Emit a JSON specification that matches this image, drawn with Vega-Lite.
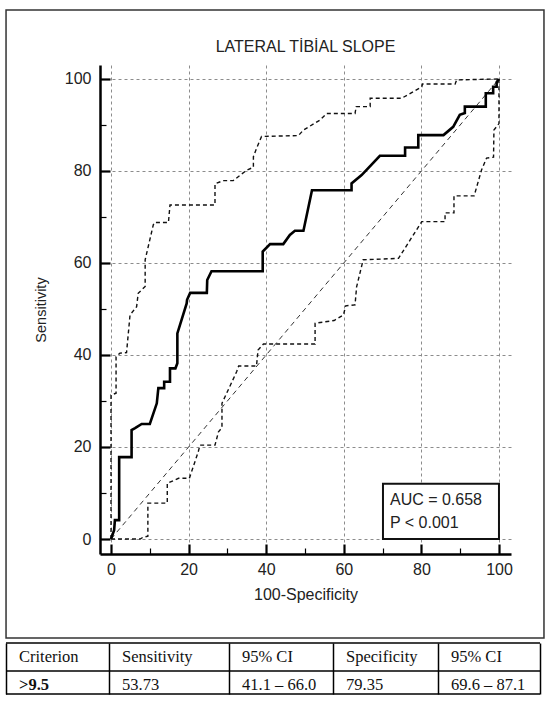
{
  "$schema": "https://vega.github.io/schema/vega-lite/v6.json",
  "background": "white",
  "padding": {"left": 5, "top": 9, "right": 0, "bottom": 0},
  "autosize": {"type": "pad"},
  "spacing": 3,
  "config": {"view": {"stroke": null}},
  "datasets": {
    "curves": [
      {"s": "roc", "x": 0, "y": 0}, {"s": "roc", "x": 0.8, "y": 1.9}, {"s": "roc", "x": 1.0, "y": 4.1},
      {"s": "roc", "x": 2.1, "y": 4.1}, {"s": "roc", "x": 2.1, "y": 17.8}, {"s": "roc", "x": 5.3, "y": 17.8},
      {"s": "roc", "x": 5.3, "y": 23.7}, {"s": "roc", "x": 6.2, "y": 24.1}, {"s": "roc", "x": 7.9, "y": 25.0},
      {"s": "roc", "x": 10.0, "y": 25.0}, {"s": "roc", "x": 11.8, "y": 29.5}, {"s": "roc", "x": 12.2, "y": 32.8},
      {"s": "roc", "x": 13.7, "y": 32.8}, {"s": "roc", "x": 13.7, "y": 34.2}, {"s": "roc", "x": 15.2, "y": 34.2},
      {"s": "roc", "x": 15.2, "y": 37.1}, {"s": "roc", "x": 16.6, "y": 37.1}, {"s": "roc", "x": 17.1, "y": 38.2},
      {"s": "roc", "x": 17.1, "y": 44.7}, {"s": "roc", "x": 19.5, "y": 51.2}, {"s": "roc", "x": 19.6, "y": 52.0},
      {"s": "roc", "x": 20.4, "y": 53.5}, {"s": "roc", "x": 24.7, "y": 53.5}, {"s": "roc", "x": 24.8, "y": 56.3},
      {"s": "roc", "x": 25.9, "y": 58.2}, {"s": "roc", "x": 39.1, "y": 58.2}, {"s": "roc", "x": 39.1, "y": 62.5},
      {"s": "roc", "x": 41.0, "y": 64.1}, {"s": "roc", "x": 44.4, "y": 64.1}, {"s": "roc", "x": 46.1, "y": 66.1},
      {"s": "roc", "x": 47.4, "y": 67.0}, {"s": "roc", "x": 49.6, "y": 67.0}, {"s": "roc", "x": 51.8, "y": 75.8},
      {"s": "roc", "x": 62.0, "y": 75.8}, {"s": "roc", "x": 62.0, "y": 77.3}, {"s": "roc", "x": 64.6, "y": 79.1},
      {"s": "roc", "x": 69.3, "y": 83.3}, {"s": "roc", "x": 75.8, "y": 83.3}, {"s": "roc", "x": 75.8, "y": 85.1},
      {"s": "roc", "x": 79.2, "y": 85.1}, {"s": "roc", "x": 79.2, "y": 87.8}, {"s": "roc", "x": 85.7, "y": 87.8},
      {"s": "roc", "x": 88.2, "y": 89.6}, {"s": "roc", "x": 89.9, "y": 92.2}, {"s": "roc", "x": 91.2, "y": 92.6},
      {"s": "roc", "x": 91.2, "y": 94.0}, {"s": "roc", "x": 96.6, "y": 94.0}, {"s": "roc", "x": 96.6, "y": 96.9},
      {"s": "roc", "x": 98.5, "y": 96.9}, {"s": "roc", "x": 98.5, "y": 98.3}, {"s": "roc", "x": 99.4, "y": 98.3},
      {"s": "roc", "x": 99.4, "y": 99.3}, {"s": "roc", "x": 100, "y": 100},

      {"s": "upper", "x": 0, "y": 0}, {"s": "upper", "x": 0, "y": 31.3}, {"s": "upper", "x": 1.3, "y": 31.7},
      {"s": "upper", "x": 1.3, "y": 39.6}, {"s": "upper", "x": 2.3, "y": 40.4}, {"s": "upper", "x": 4.0, "y": 40.5},
      {"s": "upper", "x": 4.9, "y": 48.7}, {"s": "upper", "x": 6.6, "y": 50.5}, {"s": "upper", "x": 7.0, "y": 53.4},
      {"s": "upper", "x": 8.8, "y": 54.9}, {"s": "upper", "x": 8.8, "y": 60.7}, {"s": "upper", "x": 10.9, "y": 68.3},
      {"s": "upper", "x": 11.2, "y": 68.8}, {"s": "upper", "x": 14.8, "y": 68.8}, {"s": "upper", "x": 15.2, "y": 72.6},
      {"s": "upper", "x": 26.8, "y": 72.6}, {"s": "upper", "x": 26.8, "y": 77.2}, {"s": "upper", "x": 28.9, "y": 77.9},
      {"s": "upper", "x": 31.5, "y": 77.9}, {"s": "upper", "x": 35.0, "y": 80.2}, {"s": "upper", "x": 36.7, "y": 80.8},
      {"s": "upper", "x": 36.7, "y": 83.1}, {"s": "upper", "x": 37.5, "y": 84.9}, {"s": "upper", "x": 38.8, "y": 87.5},
      {"s": "upper", "x": 48.3, "y": 87.7}, {"s": "upper", "x": 49.6, "y": 88.9}, {"s": "upper", "x": 53.9, "y": 91.1},
      {"s": "upper", "x": 55.6, "y": 92.5}, {"s": "upper", "x": 62.9, "y": 92.5}, {"s": "upper", "x": 63.2, "y": 94.0},
      {"s": "upper", "x": 66.8, "y": 94.0}, {"s": "upper", "x": 66.8, "y": 95.8}, {"s": "upper", "x": 74.9, "y": 95.8},
      {"s": "upper", "x": 80.1, "y": 98.3}, {"s": "upper", "x": 80.3, "y": 98.9}, {"s": "upper", "x": 88.7, "y": 98.9},
      {"s": "upper", "x": 89.1, "y": 99.8}, {"s": "upper", "x": 100, "y": 100},

      {"s": "lower", "x": 0, "y": 0}, {"s": "lower", "x": 7.5, "y": 0}, {"s": "lower", "x": 8.3, "y": 0.4},
      {"s": "lower", "x": 9.5, "y": 0.6}, {"s": "lower", "x": 9.5, "y": 7.8}, {"s": "lower", "x": 14.5, "y": 7.8},
      {"s": "lower", "x": 14.5, "y": 12.1}, {"s": "lower", "x": 17.4, "y": 13.2}, {"s": "lower", "x": 20.2, "y": 13.2},
      {"s": "lower", "x": 22.5, "y": 19.0}, {"s": "lower", "x": 22.9, "y": 20.4}, {"s": "lower", "x": 26.8, "y": 20.4},
      {"s": "lower", "x": 27.7, "y": 23.3}, {"s": "lower", "x": 28.6, "y": 24.2}, {"s": "lower", "x": 28.6, "y": 29.5},
      {"s": "lower", "x": 32.4, "y": 36.4}, {"s": "lower", "x": 32.9, "y": 37.6}, {"s": "lower", "x": 37.5, "y": 37.6},
      {"s": "lower", "x": 37.9, "y": 41.1}, {"s": "lower", "x": 39.3, "y": 42.4}, {"s": "lower", "x": 52.6, "y": 42.4},
      {"s": "lower", "x": 52.6, "y": 46.9}, {"s": "lower", "x": 57.5, "y": 47.5}, {"s": "lower", "x": 59.9, "y": 48.7},
      {"s": "lower", "x": 60.5, "y": 50.7}, {"s": "lower", "x": 62.9, "y": 50.9}, {"s": "lower", "x": 63.3, "y": 54.8},
      {"s": "lower", "x": 65.0, "y": 60.7}, {"s": "lower", "x": 74.1, "y": 61.0}, {"s": "lower", "x": 80.1, "y": 69.0},
      {"s": "lower", "x": 86.1, "y": 69.0}, {"s": "lower", "x": 86.1, "y": 70.9}, {"s": "lower", "x": 88.4, "y": 70.9},
      {"s": "lower", "x": 88.4, "y": 74.6}, {"s": "lower", "x": 93.6, "y": 74.6}, {"s": "lower", "x": 95.5, "y": 80.2},
      {"s": "lower", "x": 96.8, "y": 82.8}, {"s": "lower", "x": 98.6, "y": 83.0}, {"s": "lower", "x": 98.7, "y": 88.9},
      {"s": "lower", "x": 100, "y": 90.3}, {"s": "lower", "x": 100, "y": 100},

      {"s": "diag", "x": 0, "y": 0}, {"s": "diag", "x": 100, "y": 100}
    ],
    "table": [
      {"row": 1, "col": 1, "text": "Criterion"},
      {"row": 1, "col": 2, "text": "Sensitivity"},
      {"row": 1, "col": 3, "text": "95% CI"},
      {"row": 1, "col": 4, "text": "Specificity"},
      {"row": 1, "col": 5, "text": "95% CI"},
      {"row": 2, "col": 1, "text": ">9.5"},
      {"row": 2, "col": 2, "text": "53.73"},
      {"row": 2, "col": 3, "text": "41.1 – 66.0"},
      {"row": 2, "col": 4, "text": "79.35"},
      {"row": 2, "col": 5, "text": "69.6 – 87.1"}
    ]
  },
  "vconcat": [
    {
      "width": 411,
      "height": 489,
      "title": {
        "text": "LATERAL TİBİAL SLOPE",
        "font": "Liberation Sans, sans-serif",
        "fontSize": 16,
        "fontWeight": "normal",
        "color": "#222",
        "offset": -46
      },
      "layer": [
        {
          "data": {"values": [{}]},
          "mark": {"type": "rect", "filled": false, "stroke": "#333", "strokeWidth": 1.5},
          "encoding": {
            "x": {"datum": -27.06, "type": "quantitative"},
            "x2": {"datum": 111.6},
            "y": {"datum": -21.5, "type": "quantitative"},
            "y2": {"datum": 115}
          }
        },
        {
          "data": {"name": "curves"},
          "transform": [{"filter": "datum.s === 'diag'"}],
          "mark": {"type": "line", "color": "#333", "strokeWidth": 1, "strokeDash": [5, 4]},
          "encoding": {
            "x": {
              "field": "x", "type": "quantitative",
              "scale": {"domain": [-2.84, 103.1], "nice": false, "zero": false},
              "axis": {
                "values": [0, 5, 10, 15, 20, 25, 30, 35, 40, 45, 50, 55, 60, 65, 70, 75, 80, 85, 90, 95, 100],
                "labelExpr": "datum.value % 20 === 0 ? datum.label : ''",
                "labelOverlap": false,
                "labelFlush": false,
                "grid": true,
                "gridColor": "#8c8c8c",
                "gridDash": [3, 3],
                "gridWidth": 1,
                "gridOpacity": {"condition": {"test": "datum.value % 20 === 0", "value": 1}, "value": 0},
                "tickSize": {"condition": {"test": "datum.value % 20 === 0", "value": -10}, "value": -6},
                "tickWidth": {"condition": {"test": "datum.value % 20 === 0", "value": 2.2}, "value": 1.2},
                "tickColor": "black",
                "domainColor": "black",
                "domainWidth": 2.5,
                "labelFont": "Liberation Sans, sans-serif",
                "labelFontSize": 16,
                "labelColor": "#222",
                "labelPadding": 17,
                "title": "100-Specificity",
                "titleFont": "Liberation Sans, sans-serif",
                "titleFontSize": 16,
                "titleFontWeight": "normal",
                "titleColor": "#222",
                "titlePadding": 5
              }
            },
            "y": {
              "field": "y", "type": "quantitative",
              "scale": {"domain": [-3.26, 103.04], "nice": false, "zero": false},
              "axis": {
                "values": [0, 5, 10, 15, 20, 25, 30, 35, 40, 45, 50, 55, 60, 65, 70, 75, 80, 85, 90, 95, 100],
                "labelExpr": "datum.value % 20 === 0 ? datum.label : ''",
                "labelOverlap": false,
                "labelFlush": false,
                "grid": true,
                "gridColor": "#8c8c8c",
                "gridDash": [3, 3],
                "gridWidth": 1,
                "gridOpacity": {"condition": {"test": "datum.value % 20 === 0", "value": 1}, "value": 0},
                "tickSize": {"condition": {"test": "datum.value % 20 === 0", "value": -10}, "value": -6},
                "tickWidth": {"condition": {"test": "datum.value % 20 === 0", "value": 2.2}, "value": 1.2},
                "tickColor": "black",
                "domainColor": "black",
                "domainWidth": 2.5,
                "labelFont": "Liberation Sans, sans-serif",
                "labelFontSize": 16,
                "labelColor": "#222",
                "labelPadding": 19,
                "title": "Sensitivity",
                "titleFont": "Liberation Sans, sans-serif",
                "titleFontSize": 14.5,
                "titleFontWeight": "normal",
                "titleColor": "#222",
                "titlePadding": 16
              }
            },
            "order": {"value": null}
          }
        },
        {
          "data": {"name": "curves"},
          "transform": [{"filter": "datum.s === 'upper' || datum.s === 'lower'"}],
          "mark": {"type": "line", "color": "#111", "strokeWidth": 1.4, "strokeDash": [4, 3]},
          "encoding": {
            "x": {"field": "x", "type": "quantitative"},
            "y": {"field": "y", "type": "quantitative"},
            "detail": {"field": "s"},
            "order": {"value": null}
          }
        },
        {
          "data": {"name": "curves"},
          "transform": [{"filter": "datum.s === 'roc'"}],
          "mark": {"type": "line", "color": "black", "strokeWidth": 2.6},
          "encoding": {
            "x": {"field": "x", "type": "quantitative"},
            "y": {"field": "y", "type": "quantitative"},
            "order": {"value": null}
          }
        },
        {
          "data": {"values": [{}]},
          "mark": {"type": "rect", "fill": "white", "stroke": "#111", "strokeWidth": 2},
          "encoding": {
            "x": {"datum": 70.1, "type": "quantitative"},
            "x2": {"datum": 100},
            "y": {"datum": 0, "type": "quantitative"},
            "y2": {"datum": 12}
          }
        },
        {
          "data": {"values": [{}]},
          "mark": {
            "type": "text",
            "text": ["AUC = 0.658", "P < 0.001"],
            "align": "left",
            "baseline": "alphabetic",
            "font": "Liberation Sans, sans-serif",
            "fontSize": 16,
            "lineHeight": 22.7,
            "color": "#222"
          },
          "encoding": {
            "x": {"datum": 71.9, "type": "quantitative"},
            "y": {"datum": 7.4, "type": "quantitative"}
          }
        }
      ]
    },
    {
      "width": 440,
      "height": 51,
      "layer": [
        {
          "data": {"name": "table"},
          "transform": [{"filter": "!(datum.row === 2 && datum.col === 1)"}],
          "mark": {
            "type": "text", "align": "left", "baseline": "middle", "dx": 13, "dy": 14,
            "font": "Liberation Serif, serif", "fontSize": 16.5, "color": "#111"
          },
          "encoding": {
            "x": {
              "field": "col", "type": "quantitative",
              "scale": {"domain": [1, 2, 3, 4, 5, 6], "range": [-94, 9, 129, 233, 338, 440]},
              "axis": {
                "values": [1, 2, 3, 4, 5, 6],
                "grid": true, "gridColor": "black", "gridWidth": 1.5,
                "domain": false, "ticks": false, "labels": false, "title": null
              }
            },
            "y": {
              "field": "row", "type": "quantitative",
              "scale": {"domain": [1, 2, 3], "range": [0, 28, 51]},
              "axis": null
            },
            "text": {"field": "text"}
          }
        },
        {
          "data": {"name": "table"},
          "transform": [{"filter": "datum.row === 2 && datum.col === 1"}],
          "mark": {
            "type": "text", "align": "left", "baseline": "middle", "dx": 13, "dy": 14,
            "font": "Liberation Serif, serif", "fontSize": 16.5, "fontWeight": "bold", "color": "#111"
          },
          "encoding": {
            "x": {"field": "col", "type": "quantitative"},
            "y": {"field": "row", "type": "quantitative"},
            "text": {"field": "text"}
          }
        },
        {
          "data": {"values": [{}]},
          "mark": {"type": "rule", "color": "black", "strokeWidth": 1.5},
          "encoding": {
            "x": {"datum": 1, "type": "quantitative"},
            "x2": {"datum": 6},
            "y": {"datum": 1, "type": "quantitative"}
          }
        },
        {
          "data": {"values": [{}]},
          "mark": {"type": "rule", "color": "black", "strokeWidth": 1.5},
          "encoding": {
            "x": {"datum": 1, "type": "quantitative"},
            "x2": {"datum": 6},
            "y": {"datum": 2, "type": "quantitative"}
          }
        },
        {
          "data": {"values": [{}]},
          "mark": {"type": "rule", "color": "black", "strokeWidth": 1.5},
          "encoding": {
            "x": {"datum": 1, "type": "quantitative"},
            "x2": {"datum": 6},
            "y": {"datum": 3, "type": "quantitative"}
          }
        }
      ]
    }
  ]
}
